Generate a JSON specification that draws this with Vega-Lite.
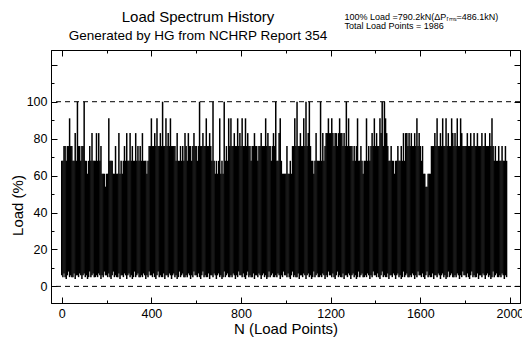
{
"$schema": "https://vega.github.io/schema/vega-lite/v6.json",
"width": 469, "height": 253,
"autosize": "none",
"padding": {"left": 51, "top": 50, "right": 2, "bottom": 42},
"title": {"text": "Load Spectrum History", "subtitle": "Generated by HG from NCHRP Report 354", "anchor": "start", "frame": "group", "align": "center", "dx": 147, "offset": -30, "font": "Liberation Sans", "fontSize": 15, "fontWeight": "normal", "color": "black", "subtitleFont": "Liberation Sans", "subtitleFontSize": 13.5, "subtitleColor": "black", "subtitlePadding": 4},
"config": {
  "view": {"stroke": "black", "strokeWidth": 1},
  "axis": {"grid": false, "domainColor": "black", "tickColor": "black", "labelColor": "black", "titleColor": "black", "labelFont": "Liberation Sans", "titleFont": "Liberation Sans", "labelFontSize": 12.5, "titleFontSize": 15, "titleFontWeight": "normal"}
},
"datasets": {
"cycles": [
{"n":0,"lo":6,"hi":68},{"n":5,"lo":5,"hi":68},{"n":10,"lo":7,"hi":76},{"n":15,"lo":5,"hi":76},{"n":20,"lo":4,"hi":68},{"n":25,"lo":6,"hi":76},{"n":30,"lo":8,"hi":76},{"n":35,"lo":5,"hi":91},{"n":40,"lo":6,"hi":76},{"n":45,"lo":5,"hi":76},
{"n":50,"lo":5,"hi":68},{"n":55,"lo":7,"hi":68},{"n":60,"lo":4,"hi":83},{"n":65,"lo":6,"hi":68},{"n":70,"lo":6,"hi":100},{"n":75,"lo":5,"hi":76},{"n":80,"lo":7,"hi":76},{"n":85,"lo":6,"hi":68},{"n":90,"lo":4,"hi":76},{"n":95,"lo":6,"hi":76},
{"n":100,"lo":7,"hi":100},{"n":105,"lo":5,"hi":68},{"n":110,"lo":6,"hi":68},{"n":115,"lo":4,"hi":61},{"n":120,"lo":5,"hi":68},{"n":125,"lo":8,"hi":76},{"n":130,"lo":5,"hi":68},{"n":135,"lo":6,"hi":83},{"n":140,"lo":7,"hi":68},{"n":145,"lo":5,"hi":68},
{"n":150,"lo":5,"hi":68},{"n":155,"lo":6,"hi":83},{"n":160,"lo":5,"hi":68},{"n":165,"lo":7,"hi":83},{"n":170,"lo":6,"hi":68},{"n":175,"lo":4,"hi":76},{"n":180,"lo":6,"hi":61},{"n":185,"lo":5,"hi":61},{"n":190,"lo":8,"hi":61},{"n":195,"lo":6,"hi":54},
{"n":200,"lo":6,"hi":61},{"n":205,"lo":5,"hi":61},{"n":210,"lo":7,"hi":91},{"n":215,"lo":5,"hi":68},{"n":220,"lo":4,"hi":68},{"n":225,"lo":6,"hi":68},{"n":230,"lo":8,"hi":61},{"n":235,"lo":5,"hi":61},{"n":240,"lo":6,"hi":76},{"n":245,"lo":5,"hi":61},
{"n":250,"lo":5,"hi":61},{"n":255,"lo":7,"hi":83},{"n":260,"lo":4,"hi":61},{"n":265,"lo":6,"hi":68},{"n":270,"lo":6,"hi":61},{"n":275,"lo":5,"hi":68},{"n":280,"lo":7,"hi":76},{"n":285,"lo":6,"hi":68},{"n":290,"lo":4,"hi":83},{"n":295,"lo":6,"hi":68},
{"n":300,"lo":7,"hi":68},{"n":305,"lo":5,"hi":83},{"n":310,"lo":6,"hi":68},{"n":315,"lo":4,"hi":76},{"n":320,"lo":5,"hi":68},{"n":325,"lo":8,"hi":68},{"n":330,"lo":5,"hi":83},{"n":335,"lo":6,"hi":68},{"n":340,"lo":7,"hi":76},{"n":345,"lo":5,"hi":68},
{"n":350,"lo":5,"hi":76},{"n":355,"lo":6,"hi":68},{"n":360,"lo":5,"hi":83},{"n":365,"lo":7,"hi":68},{"n":370,"lo":6,"hi":68},{"n":375,"lo":4,"hi":68},{"n":380,"lo":6,"hi":61},{"n":385,"lo":5,"hi":68},{"n":390,"lo":8,"hi":76},{"n":395,"lo":6,"hi":76},
{"n":400,"lo":6,"hi":91},{"n":405,"lo":5,"hi":76},{"n":410,"lo":7,"hi":76},{"n":415,"lo":5,"hi":83},{"n":420,"lo":4,"hi":76},{"n":425,"lo":6,"hi":91},{"n":430,"lo":8,"hi":76},{"n":435,"lo":5,"hi":76},{"n":440,"lo":6,"hi":83},{"n":445,"lo":5,"hi":76},
{"n":450,"lo":5,"hi":100},{"n":455,"lo":7,"hi":76},{"n":460,"lo":4,"hi":76},{"n":465,"lo":6,"hi":91},{"n":470,"lo":6,"hi":76},{"n":475,"lo":5,"hi":83},{"n":480,"lo":7,"hi":76},{"n":485,"lo":6,"hi":91},{"n":490,"lo":4,"hi":76},{"n":495,"lo":6,"hi":76},
{"n":500,"lo":7,"hi":76},{"n":505,"lo":5,"hi":76},{"n":510,"lo":6,"hi":68},{"n":515,"lo":4,"hi":83},{"n":520,"lo":5,"hi":68},{"n":525,"lo":8,"hi":68},{"n":530,"lo":5,"hi":76},{"n":535,"lo":6,"hi":68},{"n":540,"lo":7,"hi":76},{"n":545,"lo":5,"hi":68},
{"n":550,"lo":5,"hi":83},{"n":555,"lo":6,"hi":76},{"n":560,"lo":5,"hi":68},{"n":565,"lo":7,"hi":83},{"n":570,"lo":6,"hi":76},{"n":575,"lo":4,"hi":76},{"n":580,"lo":6,"hi":68},{"n":585,"lo":5,"hi":76},{"n":590,"lo":8,"hi":83},{"n":595,"lo":6,"hi":76},
{"n":600,"lo":6,"hi":76},{"n":605,"lo":5,"hi":68},{"n":610,"lo":7,"hi":76},{"n":615,"lo":5,"hi":100},{"n":620,"lo":4,"hi":76},{"n":625,"lo":6,"hi":76},{"n":630,"lo":8,"hi":83},{"n":635,"lo":5,"hi":76},{"n":640,"lo":6,"hi":76},{"n":645,"lo":5,"hi":91},
{"n":650,"lo":5,"hi":76},{"n":655,"lo":7,"hi":76},{"n":660,"lo":4,"hi":83},{"n":665,"lo":6,"hi":76},{"n":670,"lo":6,"hi":68},{"n":675,"lo":5,"hi":100},{"n":680,"lo":7,"hi":68},{"n":685,"lo":6,"hi":61},{"n":690,"lo":4,"hi":68},{"n":695,"lo":6,"hi":61},
{"n":700,"lo":7,"hi":68},{"n":705,"lo":5,"hi":91},{"n":710,"lo":6,"hi":61},{"n":715,"lo":4,"hi":68},{"n":720,"lo":5,"hi":61},{"n":725,"lo":8,"hi":100},{"n":730,"lo":5,"hi":68},{"n":735,"lo":6,"hi":76},{"n":740,"lo":7,"hi":68},{"n":745,"lo":5,"hi":91},
{"n":750,"lo":5,"hi":76},{"n":755,"lo":6,"hi":91},{"n":760,"lo":5,"hi":76},{"n":765,"lo":7,"hi":76},{"n":770,"lo":6,"hi":83},{"n":775,"lo":4,"hi":76},{"n":780,"lo":6,"hi":76},{"n":785,"lo":5,"hi":91},{"n":790,"lo":8,"hi":76},{"n":795,"lo":6,"hi":83},
{"n":800,"lo":6,"hi":76},{"n":805,"lo":5,"hi":91},{"n":810,"lo":7,"hi":76},{"n":815,"lo":5,"hi":76},{"n":820,"lo":4,"hi":91},{"n":825,"lo":6,"hi":76},{"n":830,"lo":8,"hi":83},{"n":835,"lo":5,"hi":76},{"n":840,"lo":6,"hi":76},{"n":845,"lo":5,"hi":68},
{"n":850,"lo":5,"hi":76},{"n":855,"lo":7,"hi":76},{"n":860,"lo":4,"hi":83},{"n":865,"lo":6,"hi":76},{"n":870,"lo":6,"hi":76},{"n":875,"lo":5,"hi":68},{"n":880,"lo":7,"hi":76},{"n":885,"lo":6,"hi":76},{"n":890,"lo":4,"hi":83},{"n":895,"lo":6,"hi":76},
{"n":900,"lo":7,"hi":76},{"n":905,"lo":5,"hi":76},{"n":910,"lo":6,"hi":91},{"n":915,"lo":4,"hi":76},{"n":920,"lo":5,"hi":83},{"n":925,"lo":8,"hi":76},{"n":930,"lo":5,"hi":76},{"n":935,"lo":6,"hi":68},{"n":940,"lo":7,"hi":76},{"n":945,"lo":5,"hi":83},
{"n":950,"lo":5,"hi":76},{"n":955,"lo":6,"hi":100},{"n":960,"lo":5,"hi":68},{"n":965,"lo":7,"hi":68},{"n":970,"lo":6,"hi":83},{"n":975,"lo":4,"hi":91},{"n":980,"lo":6,"hi":68},{"n":985,"lo":5,"hi":61},{"n":990,"lo":8,"hi":61},{"n":995,"lo":6,"hi":61},
{"n":1000,"lo":6,"hi":61},{"n":1005,"lo":5,"hi":76},{"n":1010,"lo":7,"hi":61},{"n":1015,"lo":5,"hi":61},{"n":1020,"lo":4,"hi":68},{"n":1025,"lo":6,"hi":61},{"n":1030,"lo":8,"hi":76},{"n":1035,"lo":5,"hi":76},{"n":1040,"lo":6,"hi":91},{"n":1045,"lo":5,"hi":76},
{"n":1050,"lo":5,"hi":100},{"n":1055,"lo":7,"hi":76},{"n":1060,"lo":4,"hi":76},{"n":1065,"lo":6,"hi":83},{"n":1070,"lo":6,"hi":76},{"n":1075,"lo":5,"hi":76},{"n":1080,"lo":7,"hi":91},{"n":1085,"lo":6,"hi":76},{"n":1090,"lo":4,"hi":100},{"n":1095,"lo":6,"hi":76},
{"n":1100,"lo":7,"hi":83},{"n":1105,"lo":5,"hi":100},{"n":1110,"lo":6,"hi":76},{"n":1115,"lo":4,"hi":68},{"n":1120,"lo":5,"hi":68},{"n":1125,"lo":8,"hi":61},{"n":1130,"lo":5,"hi":68},{"n":1135,"lo":6,"hi":83},{"n":1140,"lo":7,"hi":68},{"n":1145,"lo":5,"hi":68},
{"n":1150,"lo":5,"hi":68},{"n":1155,"lo":6,"hi":100},{"n":1160,"lo":5,"hi":68},{"n":1165,"lo":7,"hi":83},{"n":1170,"lo":6,"hi":68},{"n":1175,"lo":4,"hi":76},{"n":1180,"lo":6,"hi":83},{"n":1185,"lo":5,"hi":83},{"n":1190,"lo":8,"hi":91},{"n":1195,"lo":6,"hi":83},
{"n":1200,"lo":6,"hi":83},{"n":1205,"lo":5,"hi":91},{"n":1210,"lo":7,"hi":83},{"n":1215,"lo":5,"hi":76},{"n":1220,"lo":4,"hi":83},{"n":1225,"lo":6,"hi":83},{"n":1230,"lo":8,"hi":76},{"n":1235,"lo":5,"hi":83},{"n":1240,"lo":6,"hi":91},{"n":1245,"lo":5,"hi":83},
{"n":1250,"lo":5,"hi":83},{"n":1255,"lo":7,"hi":76},{"n":1260,"lo":4,"hi":83},{"n":1265,"lo":6,"hi":76},{"n":1270,"lo":6,"hi":100},{"n":1275,"lo":5,"hi":76},{"n":1280,"lo":7,"hi":91},{"n":1285,"lo":6,"hi":76},{"n":1290,"lo":4,"hi":76},{"n":1295,"lo":6,"hi":76},
{"n":1300,"lo":7,"hi":68},{"n":1305,"lo":5,"hi":76},{"n":1310,"lo":6,"hi":68},{"n":1315,"lo":4,"hi":76},{"n":1320,"lo":5,"hi":91},{"n":1325,"lo":8,"hi":68},{"n":1330,"lo":5,"hi":68},{"n":1335,"lo":6,"hi":76},{"n":1340,"lo":7,"hi":68},{"n":1345,"lo":5,"hi":61},
{"n":1350,"lo":5,"hi":68},{"n":1355,"lo":6,"hi":68},{"n":1360,"lo":5,"hi":91},{"n":1365,"lo":7,"hi":68},{"n":1370,"lo":6,"hi":76},{"n":1375,"lo":4,"hi":68},{"n":1380,"lo":6,"hi":76},{"n":1385,"lo":5,"hi":83},{"n":1390,"lo":8,"hi":76},{"n":1395,"lo":6,"hi":91},
{"n":1400,"lo":6,"hi":76},{"n":1405,"lo":5,"hi":83},{"n":1410,"lo":7,"hi":76},{"n":1415,"lo":5,"hi":76},{"n":1420,"lo":4,"hi":91},{"n":1425,"lo":6,"hi":83},{"n":1430,"lo":8,"hi":100},{"n":1435,"lo":5,"hi":76},{"n":1440,"lo":6,"hi":100},{"n":1445,"lo":5,"hi":91},
{"n":1450,"lo":5,"hi":83},{"n":1455,"lo":7,"hi":76},{"n":1460,"lo":4,"hi":68},{"n":1465,"lo":6,"hi":68},{"n":1470,"lo":6,"hi":76},{"n":1475,"lo":5,"hi":68},{"n":1480,"lo":7,"hi":68},{"n":1485,"lo":6,"hi":61},{"n":1490,"lo":4,"hi":68},{"n":1495,"lo":6,"hi":68},
{"n":1500,"lo":7,"hi":76},{"n":1505,"lo":5,"hi":68},{"n":1510,"lo":6,"hi":68},{"n":1515,"lo":4,"hi":76},{"n":1520,"lo":5,"hi":68},{"n":1525,"lo":8,"hi":83},{"n":1530,"lo":5,"hi":68},{"n":1535,"lo":6,"hi":83},{"n":1540,"lo":7,"hi":83},{"n":1545,"lo":5,"hi":76},
{"n":1550,"lo":5,"hi":83},{"n":1555,"lo":6,"hi":76},{"n":1560,"lo":5,"hi":83},{"n":1565,"lo":7,"hi":76},{"n":1570,"lo":6,"hi":76},{"n":1575,"lo":4,"hi":83},{"n":1580,"lo":6,"hi":76},{"n":1585,"lo":5,"hi":91},{"n":1590,"lo":8,"hi":76},{"n":1595,"lo":6,"hi":83},
{"n":1600,"lo":6,"hi":76},{"n":1605,"lo":5,"hi":68},{"n":1610,"lo":7,"hi":76},{"n":1615,"lo":5,"hi":61},{"n":1620,"lo":4,"hi":61},{"n":1625,"lo":6,"hi":54},{"n":1630,"lo":8,"hi":54},{"n":1635,"lo":5,"hi":61},{"n":1640,"lo":6,"hi":61},{"n":1645,"lo":5,"hi":61},
{"n":1650,"lo":5,"hi":76},{"n":1655,"lo":7,"hi":76},{"n":1660,"lo":4,"hi":76},{"n":1665,"lo":6,"hi":83},{"n":1670,"lo":6,"hi":76},{"n":1675,"lo":5,"hi":91},{"n":1680,"lo":7,"hi":76},{"n":1685,"lo":6,"hi":76},{"n":1690,"lo":4,"hi":83},{"n":1695,"lo":6,"hi":76},
{"n":1700,"lo":7,"hi":91},{"n":1705,"lo":5,"hi":76},{"n":1710,"lo":6,"hi":76},{"n":1715,"lo":4,"hi":91},{"n":1720,"lo":5,"hi":76},{"n":1725,"lo":8,"hi":83},{"n":1730,"lo":5,"hi":76},{"n":1735,"lo":6,"hi":76},{"n":1740,"lo":7,"hi":91},{"n":1745,"lo":5,"hi":83},
{"n":1750,"lo":5,"hi":76},{"n":1755,"lo":6,"hi":83},{"n":1760,"lo":5,"hi":76},{"n":1765,"lo":7,"hi":91},{"n":1770,"lo":6,"hi":76},{"n":1775,"lo":4,"hi":76},{"n":1780,"lo":6,"hi":91},{"n":1785,"lo":5,"hi":83},{"n":1790,"lo":8,"hi":76},{"n":1795,"lo":6,"hi":76},
{"n":1800,"lo":6,"hi":76},{"n":1805,"lo":5,"hi":76},{"n":1810,"lo":7,"hi":83},{"n":1815,"lo":5,"hi":76},{"n":1820,"lo":4,"hi":76},{"n":1825,"lo":6,"hi":83},{"n":1830,"lo":8,"hi":76},{"n":1835,"lo":5,"hi":76},{"n":1840,"lo":6,"hi":83},{"n":1845,"lo":5,"hi":76},
{"n":1850,"lo":5,"hi":76},{"n":1855,"lo":7,"hi":83},{"n":1860,"lo":4,"hi":76},{"n":1865,"lo":6,"hi":76},{"n":1870,"lo":6,"hi":76},{"n":1875,"lo":5,"hi":83},{"n":1880,"lo":7,"hi":76},{"n":1885,"lo":6,"hi":76},{"n":1890,"lo":4,"hi":83},{"n":1895,"lo":6,"hi":76},
{"n":1900,"lo":7,"hi":76},{"n":1905,"lo":5,"hi":76},{"n":1910,"lo":6,"hi":83},{"n":1915,"lo":4,"hi":76},{"n":1920,"lo":5,"hi":91},{"n":1925,"lo":8,"hi":76},{"n":1930,"lo":5,"hi":68},{"n":1935,"lo":6,"hi":76},{"n":1940,"lo":7,"hi":68},{"n":1945,"lo":5,"hi":68},
{"n":1950,"lo":5,"hi":76},{"n":1955,"lo":6,"hi":68},{"n":1960,"lo":5,"hi":68},{"n":1965,"lo":7,"hi":76},{"n":1970,"lo":6,"hi":68},{"n":1975,"lo":4,"hi":68},{"n":1980,"lo":6,"hi":76},{"n":1985,"lo":5,"hi":68}
],
"refs": [{"v": 0}, {"v": 100}],
"notes": [{"t": "100% Load =790.2kN(ΔPᵣₘₛ=486.1kN)", "yv": 144.5}, {"t": "Total Load Points = 1986", "yv": 139.2}]
},
"layer": [
  {
    "data": {"name": "cycles"},
    "mark": {"type": "rule", "color": "black", "strokeWidth": 1.5},
    "encoding": {
      "x": {"field": "n", "type": "quantitative", "scale": {"domain": [-48, 2045], "nice": false, "zero": false},
        "axis": {"orient": "bottom", "title": "N (Load Points)", "values": [0,200,400,600,800,1000,1200,1400,1600,1800,2000], "labelExpr": "datum.value % 400 === 0 ? datum.label : ''", "format": "d", "tickSize": {"condition": {"test": "datum.value % 400 === 0", "value": -6}, "value": -3}, "labelPadding": 10, "titlePadding": 2}},
      "y": {"field": "hi", "type": "quantitative", "scale": {"domain": [-9, 128], "nice": false, "zero": false},
        "axis": {"orient": "left", "title": "Load (%)", "values": [0,10,20,30,40,50,60,70,80,90,100,110,120], "labelExpr": "datum.value % 20 === 0 && datum.value <= 100 ? datum.label : ''", "tickSize": {"condition": {"test": "datum.value % 20 === 0", "value": -6}, "value": -3}, "labelPadding": 10, "titleX": -34, "titleY": 155, "titleAlign": "center", "titleBaseline": "middle", "titleAngle": -90}},
      "y2": {"field": "lo"}
    }
  },
  {
    "data": {"name": "refs"},
    "mark": {"type": "rule", "color": "black", "strokeWidth": 1, "strokeDash": [5, 4]},
    "encoding": {
      "y": {"field": "v", "type": "quantitative",
        "axis": {"orient": "right", "title": null, "values": [0,10,20,30,40,50,60,70,80,90,100,110,120], "labels": false, "tickSize": {"condition": {"test": "datum.value % 20 === 0", "value": -6}, "value": -3}}}
    }
  },
  {
    "data": {"name": "notes"},
    "mark": {"type": "text", "align": "left", "baseline": "alphabetic", "font": "Liberation Sans", "fontSize": 9, "color": "black"},
    "encoding": {
      "x": {"datum": 1262, "type": "quantitative",
        "axis": {"orient": "top", "title": null, "values": [0,200,400,600,800,1000,1200,1400,1600,1800,2000], "labels": false, "tickSize": {"condition": {"test": "datum.value % 400 === 0", "value": -6}, "value": -3}}},
      "y": {"field": "yv", "type": "quantitative", "axis": null},
      "text": {"field": "t"}
    }
  }
],
"resolve": {"axis": {"x": "independent", "y": "independent"}}
}
